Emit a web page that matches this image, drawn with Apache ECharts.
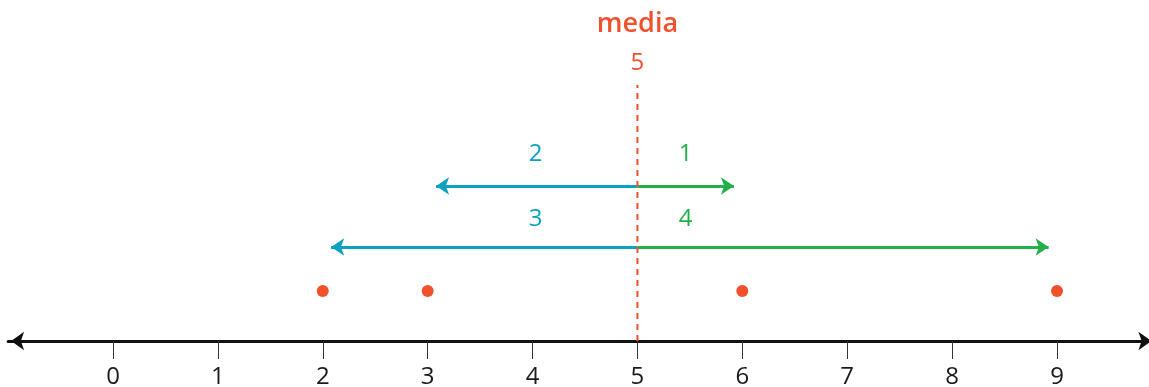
<!DOCTYPE html>
<html>
<head>
<meta charset="utf-8">
<style>
  html, body { margin: 0; padding: 0; background: #fff; }
  #chart { width: 1149px; height: 387px; }
</style>
<script src="https://cdn.jsdelivr.net/npm/echarts@6/dist/echarts.min.js"></script>
</head>
<body>
<div id="chart"></div>
<script>
// Number line data
const tickValues = [0, 1, 2, 3, 4, 5, 6, 7, 8, 9];
const median = 5;
const medianTitle = 'media';
const points = [2, 3, 6, 9];
// distance from the median, one row per pair: [left, right]
const innerDistances = [2, 1];
const outerDistances = [3, 4];

const RED = '#f0502a';
const BLUE = '#0aa2c0';
const GREEN = '#22b04b';
const FONT = '"Open Sans", "Noto Sans", sans-serif';

// vertical layout levels (y axis units, 0 = number line)
const LV = { dots: 5.0, outer: 9.4, inner: 15.5, outerLabel: 12.2, innerLabel: 18.7, dashBottom: 0, dashTop: 25.6, value: 27.8, title: 31.7 };
const tipGap = 0.08;

function arrowRow(dist, level) {
  const [l, r] = dist;
  return [
    { coords: [[median, level], [median - l + tipGap, level]], lineStyle: { color: BLUE } },
    { coords: [[median, level], [median + r - tipGap, level]], lineStyle: { color: GREEN } }
  ];
}
function labelRow(dist, level) {
  const [l, r] = dist;
  return [
    { value: [median - 0.97, level], label: { formatter: String(l), color: BLUE } },
    { value: [median + 0.46, level], label: { formatter: String(r), color: GREEN } }
  ];
}

const chart = echarts.init(document.getElementById('chart'), null, { renderer: 'canvas' });
chart.setOption({
  animation: false,
  grid: { left: 8.1, width: 1143.3, top: 0, height: 341, outerBoundsMode: 'none', containLabel: false },
  xAxis: {
    type: 'value', min: -1, max: 9.9,
    splitLine: { show: false },
    axisLine: {
      show: true,
      symbol: ['arrow', 'arrow'], symbolSize: [14, 13], symbolOffset: [3, 0],
      lineStyle: { color: '#111', width: 3 }
    },
    axisTick: { show: true, customValues: tickValues, length: 18, lineStyle: { color: '#333', width: 1 } },
    axisLabel: { show: true, customValues: tickValues, margin: 24, fontSize: 24, color: '#1a1a1a', fontFamily: FONT }
  },
  yAxis: { type: 'value', min: 0, max: 34.1, show: false },
  series: [
    {
      type: 'lines', coordinateSystem: 'cartesian2d', z: 3,
      symbol: ['none', 'arrow'], symbolSize: 13,
      lineStyle: { width: 3, opacity: 1, curveness: 0 },
      data: arrowRow(innerDistances, LV.inner).concat(arrowRow(outerDistances, LV.outer))
    },
    {
      type: 'line', z: 4, symbol: 'none', silent: true,
      lineStyle: { color: RED, width: 2, type: [6, 5] },
      data: [[median, LV.dashBottom], [median, LV.dashTop]]
    },
    {
      type: 'scatter', z: 5, symbolSize: 12,
      itemStyle: { color: RED, opacity: 1 },
      data: points.map(p => [p, LV.dots])
    },
    {
      type: 'scatter', z: 6, symbolSize: 0,
      itemStyle: { color: 'transparent' },
      label: { show: true, position: 'inside', fontSize: 24, fontFamily: FONT, textBorderWidth: 0, opacity: 1 },
      data: labelRow(innerDistances, LV.innerLabel).concat(labelRow(outerDistances, LV.outerLabel)).concat([
        { value: [median, LV.value], label: { formatter: String(median), color: RED, fontSize: 24 } },
        { value: [median, LV.title], label: { formatter: medianTitle, color: RED, fontSize: 27, fontWeight: 600 } }
      ])
    }
  ]
});
</script>
</body>
</html>
